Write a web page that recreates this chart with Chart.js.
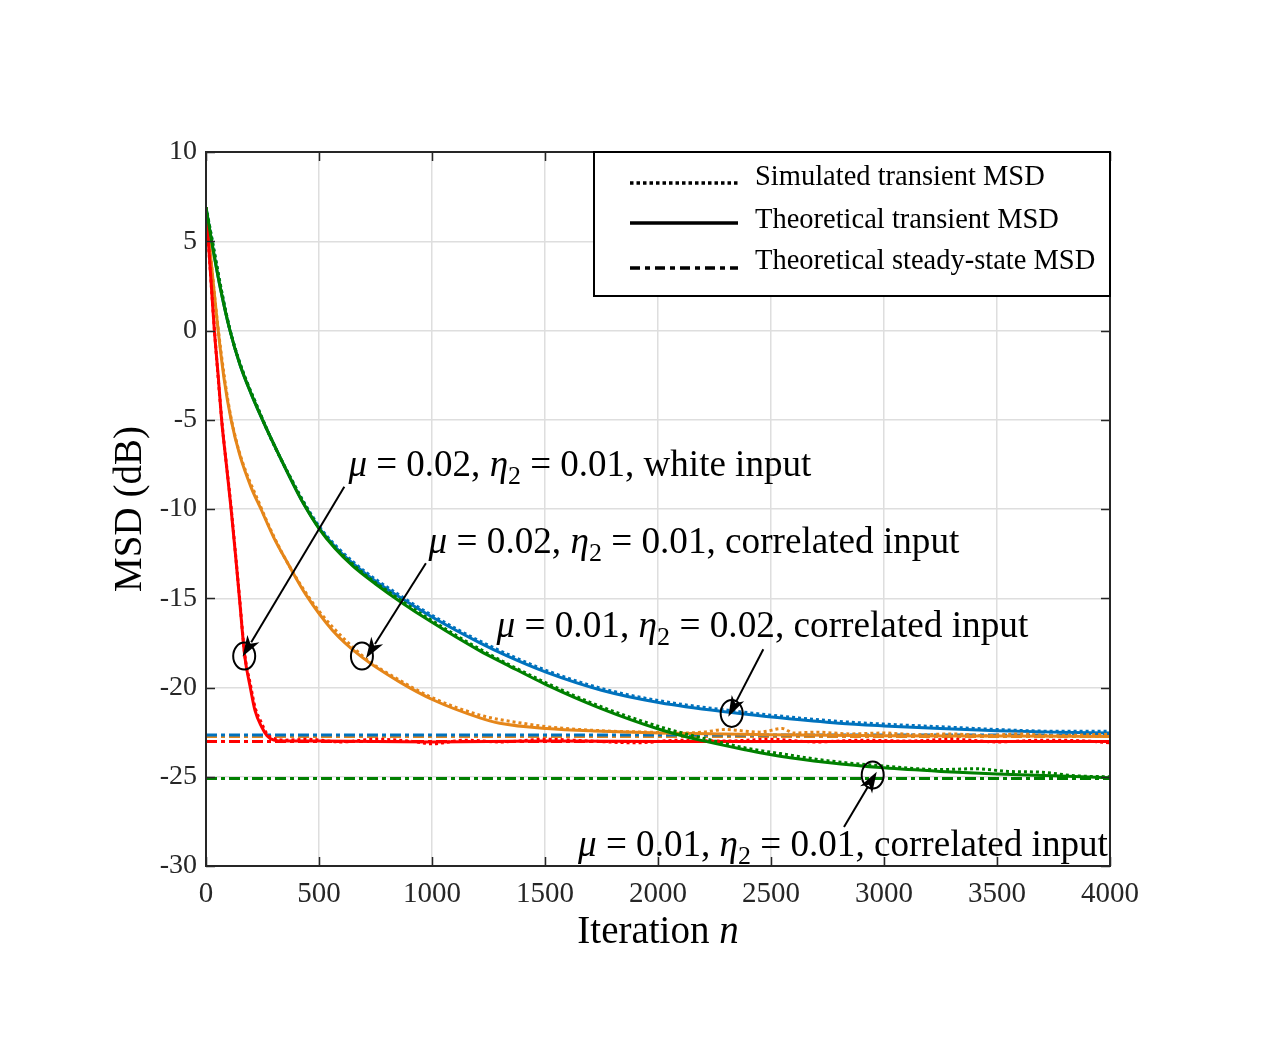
<!DOCTYPE html>
<html><head><meta charset="utf-8">
<script src="https://cdn.jsdelivr.net/npm/chart.js@4.4.1/dist/chart.umd.min.js"></script>
<style>html,body{margin:0;padding:0;background:#fff;}canvas{display:block;}</style>
</head><body>
<canvas id="c" width="1275" height="1050"></canvas>
<script>
// ---------- data ----------
const redN        = [0, 20, 37, 55, 69, 90, 111, 130, 148, 172, 196, 217, 246, 270, 300, 350, 500, 1000, 1500, 2000, 2500, 3000, 3500, 4000];
const redTheory   = [6.9, 3.2, 0, -2.7, -5, -7.5, -10, -12.5, -15, -18.3, -20.0, -21.3, -22.2, -22.7, -22.95, -23.0, -23.0, -23.05, -23.0, -23.02, -23.03, -23.03, -23.03, -23.03];

const orangeN      = [0, 14, 35, 52, 80, 111, 150, 200, 243, 300, 360, 442, 560, 690, 858, 1006, 1212, 1300, 1507, 1750, 2009, 2500, 3000, 3500, 4000];
const orangeTheory = [6.9, 5.0, 2.3, 0.2, -2.7, -5.0, -7.0, -8.8, -10.0, -11.6, -13.0, -14.8, -16.8, -18.3, -19.7, -20.7, -21.7, -22.0, -22.3, -22.45, -22.55, -22.65, -22.7, -22.72, -22.75];

const blueN      = [0, 25, 60, 106, 150, 200, 248, 300, 370, 430, 500, 570, 650, 750, 877, 1000, 1212, 1327, 1507, 1750, 2009, 2325, 2540, 2800, 3000, 3250, 3500, 3750, 4000];
const blueTheory = [6.9, 5.0, 2.6, 0, -1.9, -3.55, -4.95, -6.37, -8.2, -9.67, -11.05, -12.1, -13.05, -14.05, -15.1, -16.05, -17.5, -18.2, -19.15, -20.15, -20.85, -21.4, -21.7, -22.0, -22.15, -22.3, -22.42, -22.5, -22.55];

const greenN      = [0, 25, 60, 106, 150, 200, 248, 300, 370, 430, 500, 570, 650, 750, 855, 1000, 1212, 1327, 1507, 1743, 2009, 2186, 2392, 2540, 2750, 3000, 3250, 3500, 3750, 4000];
const greenTheory = [6.9, 5.0, 2.6, 0, -1.9, -3.55, -4.95, -6.37, -8.2, -9.67, -11.1, -12.2, -13.2, -14.2, -15.15, -16.35, -17.95, -18.7, -19.85, -21.15, -22.35, -22.95, -23.5, -23.85, -24.2, -24.5, -24.7, -24.85, -24.95, -25.05];

const simRedN = [0, 37, 69, 111, 148, 172, 196, 217, 246, 270, 300, 350, 450, 600, 750, 900, 1000, 1150, 1300, 1500, 1700, 1900, 2100, 2300, 2500, 2700, 2900, 3100, 3300, 3500, 3700, 3900, 4000];
const simRed  = [6.9, 0.1, -4.9, -9.9, -14.9, -18.2, -19.8, -21.1, -22.0, -22.6, -22.85, -22.95, -22.9, -23.05, -22.9, -23.0, -23.15, -22.95, -23.05, -22.9, -23.0, -23.1, -22.95, -23.0, -22.9, -23.05, -22.95, -23.0, -22.9, -23.05, -22.95, -23.0, -23.1];

const simOrangeN = [0, 52, 111, 243, 442, 690, 858, 1006, 1212, 1300, 1400, 1507, 1650, 1800, 1950, 2100, 2200, 2300, 2350, 2450, 2550, 2600, 2700, 2850, 3000, 3150, 3300, 3450, 3600, 3750, 3900, 4000];
const simOrange  = [6.9, 0.3, -4.9, -9.9, -14.7, -18.2, -19.6, -20.6, -21.55, -21.8, -22.0, -22.2, -22.35, -22.45, -22.5, -22.55, -22.5, -22.35, -22.4, -22.5, -22.3, -22.55, -22.5, -22.6, -22.55, -22.65, -22.6, -22.7, -22.6, -22.7, -22.65, -22.6];

const simBlueN = [0, 106, 248, 370, 500, 650, 877, 1000, 1212, 1507, 1750, 2009, 2325, 2540, 2800, 3000, 3250, 3500, 3750, 4000];
const simBlue  = [6.9, 0.05, -4.9, -8.15, -10.95, -12.95, -15.0, -15.95, -17.4, -19.05, -20.05, -20.75, -21.3, -21.6, -21.9, -22.05, -22.2, -22.35, -22.45, -22.45];

const simGreenN = [0, 106, 248, 370, 500, 650, 855, 1000, 1212, 1507, 1743, 2009, 2186, 2392, 2540, 2750, 3000, 3250, 3400, 3550, 3700, 3850, 4000];
const simGreen  = [6.9, 0.05, -4.9, -8.15, -11.05, -13.1, -15.05, -16.25, -17.85, -19.75, -21.05, -22.2, -22.8, -23.4, -23.7, -24.1, -24.4, -24.6, -24.55, -24.7, -24.75, -24.95, -25.0];

const steadyN      = [0, 4000];
const steadyBlue   = [-22.66, -22.66];
const steadyOrange = [-22.75, -22.75];
const steadyRed    = [-23.03, -23.03];
const steadyGreen  = [-25.1, -25.1];

const xTickValues = [0, 500, 1000, 1500, 2000, 2500, 3000, 3500, 4000];
const yTickValues = [-30, -25, -20, -15, -10, -5, 0, 5, 10];
const legendLabels = ['Simulated transient MSD', 'Theoretical transient MSD', 'Theoretical steady-state MSD'];
const xTitle = ['Iteration ', 'n'];
const yTitle = 'MSD (dB)';
const annotationTexts = [
  [['μ', 'i'], [' = 0.02, '], ['η', 'i'], ['2', 's'], [' = 0.01, white input']],
  [['μ', 'i'], [' = 0.02, '], ['η', 'i'], ['2', 's'], [' = 0.01, correlated input']],
  [['μ', 'i'], [' = 0.01, '], ['η', 'i'], ['2', 's'], [' = 0.02, correlated input']],
  [['μ', 'i'], [' = 0.01, '], ['η', 'i'], ['2', 's'], [' = 0.01, correlated input']]
];

// ---------- styles ----------
const C = { blue: '#0072BD', orange: '#E5861A', red: '#FF0000', green: '#008000' };
const FONT = '"Liberation Serif", "Times New Roman", serif';
const AX = '#262626';

// annotation placement (data coordinates) and target text widths (px)
const annos = [
  { text: 0, tx: 630, ty: -8.15, w: 463, ax0: 612, ay0: -8.75, ax1: 162, ay1: -18.27, cx: 169, cy: -18.24 },
  { text: 1, tx: 985, ty: -12.46, w: 531, ax0: 973, ay0: -13.04, ax1: 708, ay1: -18.36, cx: 690, cy: -18.24 },
  { text: 2, tx: 1285, ty: -17.17, w: 532, ax0: 2466, ay0: -17.86, ax1: 2311, ay1: -21.64, cx: 2326, cy: -21.45 },
  { text: 3, tx: 1646, ty: -29.44, w: 530, ax0: 2823, ay0: -27.82, ax1: 2968, ay1: -24.72, cx: 2950, cy: -24.9 }
];

const xy = (n, v) => n.map((x, i) => ({ x, y: v[i] }));

function ds(data, color, kind, order) {
  const d = { data, borderColor: color, backgroundColor: color, pointRadius: 0, borderWidth: 3, fill: false, order, cubicInterpolationMode: 'monotone' };
  if (kind === 'dot') { d.borderDash = [3, 3]; }
  if (kind === 'dashdot') { d.borderDash = [11, 4, 4, 4]; d.cubicInterpolationMode = 'default'; d.tension = 0; }
  return d;
}

const datasets = [
  ds(xy(steadyN, steadyOrange), C.orange, 'dashdot', 20),
  ds(xy(steadyN, steadyBlue), C.blue, 'dashdot', 19),
  ds(xy(steadyN, steadyRed), C.red, 'dashdot', 18),
  ds(xy(steadyN, steadyGreen), C.green, 'dashdot', 17),
  ds(xy(orangeN, orangeTheory), C.orange, 'solid', 16),
  ds(xy(blueN, blueTheory), C.blue, 'solid', 15),
  ds(xy(simOrangeN, simOrange), C.orange, 'dot', 12),
  ds(xy(simBlueN, simBlue), C.blue, 'dot', 11),
  ds(xy(redN, redTheory), C.red, 'solid', 8),
  ds(xy(simRedN, simRed), C.red, 'dot', 7),
  ds(xy(greenN, greenTheory), C.green, 'solid', 4),
  ds(xy(simGreenN, simGreen), C.green, 'dot', 3)
];

function richWidth(ctx, segs, size) {
  let w = 0;
  for (const s of segs) {
    const sz = s[1] === 's' ? size * 0.7 : size;
    ctx.font = (s[1] === 'i' ? 'italic ' : '') + sz + 'px ' + FONT;
    w += ctx.measureText(s[0]).width;
  }
  return w;
}
function drawRich(ctx, x, y, segs, size) {
  ctx.textAlign = 'left'; ctx.textBaseline = 'alphabetic'; ctx.fillStyle = '#000';
  for (const s of segs) {
    const sz = s[1] === 's' ? size * 0.7 : size;
    ctx.font = (s[1] === 'i' ? 'italic ' : '') + sz + 'px ' + FONT;
    const dy = s[1] === 's' ? size * 0.22 : 0;
    ctx.fillText(s[0], x, y + dy);
    x += ctx.measureText(s[0]).width;
  }
}
function arrow(ctx, x0, y0, x1, y1) {
  const ang = Math.atan2(y1 - y0, x1 - x0), L = 21, H = 7;
  ctx.strokeStyle = '#000'; ctx.lineWidth = 2; ctx.setLineDash([]);
  ctx.beginPath(); ctx.moveTo(x0, y0); ctx.lineTo(x1 - L * 0.8 * Math.cos(ang), y1 - L * 0.8 * Math.sin(ang)); ctx.stroke();
  ctx.fillStyle = '#000'; ctx.beginPath();
  ctx.moveTo(x1, y1);
  ctx.lineTo(x1 - L * Math.cos(ang) + H * Math.sin(ang), y1 - L * Math.sin(ang) - H * Math.cos(ang));
  ctx.lineTo(x1 - L * 0.72 * Math.cos(ang), y1 - L * 0.72 * Math.sin(ang));
  ctx.lineTo(x1 - L * Math.cos(ang) - H * Math.sin(ang), y1 - L * Math.sin(ang) + H * Math.cos(ang));
  ctx.closePath(); ctx.fill();
}

const overlay = {
  id: 'overlay',
  afterDraw(chart) {
    const ctx = chart.ctx, xs = chart.scales.x, ys = chart.scales.y, a = chart.chartArea;
    ctx.save();
    // inward ticks
    ctx.strokeStyle = AX; ctx.lineWidth = 1.5; ctx.setLineDash([]);
    ctx.beginPath();
    for (const v of xTickValues) { const p = Math.round(xs.getPixelForValue(v)) + 0.5; ctx.moveTo(p, a.bottom); ctx.lineTo(p, a.bottom - 9); ctx.moveTo(p, a.top); ctx.lineTo(p, a.top + 9); }
    for (const v of yTickValues) { const p = Math.round(ys.getPixelForValue(v)) + 0.5; ctx.moveTo(a.left, p); ctx.lineTo(a.left + 9, p); ctx.moveTo(a.right, p); ctx.lineTo(a.right - 9, p); }
    ctx.stroke();
    // box
    ctx.lineWidth = 2; ctx.strokeRect(a.left, a.top, a.right - a.left, a.bottom - a.top);

    // annotations
    for (const an of annos) {
      const segs = annotationTexts[an.text];
      const size = 30 * an.w / richWidth(ctx, segs, 30);
      drawRich(ctx, xs.getPixelForValue(an.tx), ys.getPixelForValue(an.ty), segs, size);
      ctx.strokeStyle = '#000'; ctx.lineWidth = 2;
      ctx.beginPath(); ctx.ellipse(xs.getPixelForValue(an.cx), ys.getPixelForValue(an.cy), 11, 13.5, 0, 0, Math.PI * 2); ctx.stroke();
      arrow(ctx, xs.getPixelForValue(an.ax0), ys.getPixelForValue(an.ay0), xs.getPixelForValue(an.ax1), ys.getPixelForValue(an.ay1));
    }

    // legend
    const lx0 = 594, ly0 = a.top, lx1 = a.right, ly1 = 296;
    ctx.fillStyle = '#fff'; ctx.fillRect(lx0, ly0, lx1 - lx0, ly1 - ly0);
    ctx.strokeStyle = '#000'; ctx.lineWidth = 2; ctx.strokeRect(lx0, ly0, lx1 - lx0, ly1 - ly0);
    const rows = [183, 223, 268], tys = [185, 228, 269];
    const dashes = [[3.5, 3], [], [10, 5, 5, 5]];
    ctx.lineWidth = 3.5;
    for (let i = 0; i < 3; i++) {
      ctx.setLineDash(dashes[i]);
      ctx.beginPath(); ctx.moveTo(630, rows[i]); ctx.lineTo(738, rows[i]); ctx.stroke();
    }
    ctx.setLineDash([]);
    ctx.font = '28.5px ' + FONT; ctx.fillStyle = '#000'; ctx.textAlign = 'left'; ctx.textBaseline = 'alphabetic';
    for (let i = 0; i < 3; i++) ctx.fillText(legendLabels[i], 755, tys[i]);

    // axis titles
    const xt = [[xTitle[0]], [xTitle[1], 'i']];
    const xsz = 39, xw = richWidth(ctx, xt, xsz);
    drawRich(ctx, (a.left + a.right) / 2 - xw / 2, 943, xt, xsz);
    ctx.save();
    ctx.translate(141, (a.top + a.bottom) / 2);
    ctx.rotate(-Math.PI / 2);
    ctx.font = '39px ' + FONT; ctx.textAlign = 'center'; ctx.textBaseline = 'alphabetic'; ctx.fillStyle = '#000';
    ctx.fillText(yTitle, 0, 0);
    ctx.restore();
    ctx.restore();
  }
};

new Chart(document.getElementById('c'), {
  type: 'line',
  data: { datasets },
  plugins: [overlay],
  options: {
    responsive: false, animation: false, devicePixelRatio: 1,
    layout: { padding: { left: 0, top: 152, right: 165, bottom: 124 } },
    plugins: { legend: { display: false }, tooltip: { enabled: false } },
    scales: {
      x: {
        type: 'linear', min: 0, max: 4000,
        afterFit: s => { s.height = 60; },
        afterBuildTicks: s => { s.ticks = xTickValues.map(v => ({ value: v })); },
        ticks: { stepSize: 500, color: AX, font: { family: FONT, size: 29 }, padding: 11, maxRotation: 0, callback: v => String(v) },
        grid: { color: '#dedede', lineWidth: 1.5, drawTicks: false },
        border: { display: false }
      },
      y: {
        type: 'linear', min: -30, max: 10,
        afterFit: s => { s.width = 206; },
        afterBuildTicks: s => { s.ticks = yTickValues.map(v => ({ value: v })); },
        ticks: { stepSize: 5, color: AX, font: { family: FONT, size: 28 }, padding: 9, callback: v => String(v) },
        grid: { color: '#dedede', lineWidth: 1.5, drawTicks: false },
        border: { display: false }
      }
    }
  }
});
</script>
</body></html>
